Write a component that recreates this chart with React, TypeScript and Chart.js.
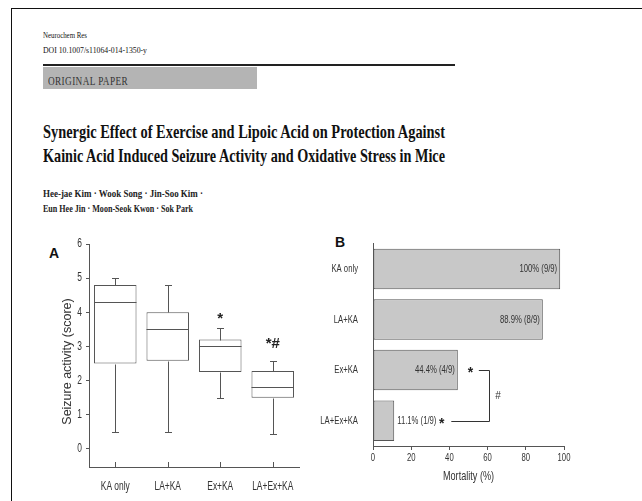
import React, { useEffect, useLayoutEffect, useRef } from 'react';
import { Chart, registerables } from 'chart.js';

Chart.register(...registerables);

// ---------- data ----------
const GROUPS = ['KA only', 'LA+KA', 'Ex+KA', 'LA+Ex+KA'];

const SEIZURE_MIN = [0.5, 0.5, 1.5, 0.45];
const SEIZURE_Q1 = [2.5, 2.58, 2.25, 1.5];
const SEIZURE_MEDIAN = [4.3, 3.5, 3.0, 1.8];
const SEIZURE_Q3 = [4.8, 4.0, 3.2, 2.28];
const SEIZURE_MAX = [5.0, 4.8, 3.55, 2.57];
const SEIZURE_MEAN = [3.8, 3.2, 2.65, 1.8];
const SEIZURE_MARKS = ['', '', '*', '*#'];
const SEIZURE_MARK_AT = [0, 0, 3.9, 3.15];
const SEIZURE_TICKS = [0, 1, 2, 3, 4, 5, 6];
const SEIZURE_TITLE = 'Seizure activity (score)';

const MORTALITY = [98, 88.9, 44.4, 11.1];
const MORTALITY_LABELS = ['100% (9/9)', '88.9% (8/9)', '44.4% (4/9)', '11.1% (1/9)'];
const MORTALITY_STAR_AT = [null, null, 51, 36];
const MORTALITY_TICKS = [0, 20, 40, 60, 80, 100];
const MORTALITY_TITLE = 'Mortality (%)';
const BRACKET_GROUPS = [2, 3];
const BRACKET_X = [55.4, 60.6, 41];
const BRACKET_HASH_AT = 65.4;

const HEADER_JOURNAL = 'Neurochem Res';
const HEADER_DOI = 'DOI 10.1007/s11064-014-1350-y';
const HEADER_TYPE = 'ORIGINAL PAPER';
const TITLE_LINES = [
  'Synergic Effect of Exercise and Lipoic Acid on Protection Against',
  'Kainic Acid Induced Seizure Activity and Oxidative Stress in Mice',
];
const AUTHOR_LINES = [
  'Hee-jae Kim \u00b7 Wook Song \u00b7 Jin-Soo Kim \u00b7',
  'Eun Hee Jin \u00b7 Moon-Seok Kwon \u00b7 Sok Park',
];

const NARROW_MARK = 'NarrowMark';
const NARROW = `'Liberation Sans', ${NARROW_MARK}, Arial, sans-serif`;
const SANS = "'Liberation Sans', Arial, sans-serif";
const SERIF = "'Liberation Serif', 'Times New Roman', serif";
const AXIS = '#555';
const TEXT = '#333';
const CONDENSE = 0.7;

function crisp(v: number) {
  return Math.round(v) + 0.5;
}

function line(ctx: CanvasRenderingContext2D, x1: number, y1: number, x2: number, y2: number) {
  ctx.beginPath();
  ctx.moveTo(x1, y1);
  ctx.lineTo(x2, y2);
  ctx.stroke();
}

// Text set in the narrow family is drawn horizontally condensed, like the figure's narrow sans.
function condenseText(canvas: HTMLCanvasElement, factor: number) {
  const ctx = canvas.getContext('2d') as any;
  if (!ctx || ctx.__condensed) return;
  ctx.__condensed = true;
  const orig = ctx.fillText;
  ctx.fillText = function (text: string, x: number, y: number, maxWidth?: number) {
    if (!String(this.font).includes(NARROW_MARK)) {
      return maxWidth === undefined ? orig.call(this, text, x, y) : orig.call(this, text, x, y, maxWidth);
    }
    this.save();
    this.translate(x, y);
    this.scale(factor, 1);
    if (maxWidth === undefined) orig.call(this, text, 0, 0);
    else orig.call(this, text, 0, 0, maxWidth / factor);
    this.restore();
  };
}

// ---------- fitted text ----------
function FitText(props: { text: string; left: number; top: number; width: number; style?: React.CSSProperties }) {
  const ref = useRef<HTMLSpanElement>(null);
  useLayoutEffect(() => {
    const el = ref.current;
    if (!el) return;
    el.style.transform = 'none';
    const w = el.getBoundingClientRect().width;
    if (w > 0) el.style.transform = `scaleX(${props.width / w})`;
  }, [props.text, props.width]);
  return (
    <span
      ref={ref}
      style={{
        position: 'absolute',
        left: props.left,
        top: props.top,
        whiteSpace: 'nowrap',
        display: 'inline-block',
        transformOrigin: '0 0',
        lineHeight: 1,
        ...props.style,
      }}
    >
      {props.text}
    </span>
  );
}

// ---------- chart A ----------
const boxPlugin = {
  id: 'boxExtras',
  afterDatasetsDraw(chart: any) {
    const { ctx, scales, chartArea } = chart;
    const x = scales.x;
    const y = scales.y;
    const meta = chart.getDatasetMeta(0);
    ctx.save();
    ctx.strokeStyle = AXIS;
    ctx.lineWidth = 1;
    meta.data.forEach((bar: any, i: number) => {
      const cx = crisp(bar.x);
      const half = bar.width / 2;
      const cap = 3.5;
      const yMax = crisp(y.getPixelForValue(SEIZURE_MAX[i]));
      const yQ3 = crisp(y.getPixelForValue(SEIZURE_Q3[i]));
      const yQ1 = crisp(y.getPixelForValue(SEIZURE_Q1[i]));
      const yMin = crisp(y.getPixelForValue(SEIZURE_MIN[i]));
      const yMed = crisp(y.getPixelForValue(SEIZURE_MEDIAN[i]));
      line(ctx, cx, yQ3, cx, yMax);
      line(ctx, cx - cap, yMax, cx + cap, yMax);
      line(ctx, cx, yQ1, cx, yMin);
      line(ctx, cx - cap, yMin, cx + cap, yMin);
      line(ctx, bar.x - half, yMed, bar.x + half, yMed);
    });
    GROUPS.forEach((_, i) => {
      const px = crisp(x.getPixelForValue(i));
      line(ctx, px, chartArea.bottom, px, chartArea.bottom - 5);
    });
    ctx.fillStyle = '#222';
    ctx.font = `bold 15px ${SANS}`;
    ctx.textAlign = 'center';
    ctx.textBaseline = 'middle';
    SEIZURE_MARKS.forEach((m, i) => {
      if (!m) return;
      ctx.fillText(m, x.getPixelForValue(i), y.getPixelForValue(SEIZURE_MARK_AT[i]) + 3);
    });
    // axis title, centred on the figure's position beside the axis
    ctx.fillStyle = TEXT;
    ctx.font = `12.5px ${SANS}`;
    ctx.translate(y.left + 48, (chartArea.top + chartArea.bottom) / 2 + 6);
    ctx.rotate(-Math.PI / 2);
    ctx.fillText(SEIZURE_TITLE, 0, 0);
    ctx.restore();
  },
};

function SeizureChart() {
  const ref = useRef<HTMLCanvasElement>(null);
  useEffect(() => {
    const canvas = ref.current;
    if (!canvas) return;
    condenseText(canvas, CONDENSE);
    const chart = new Chart(canvas, {
      type: 'bar',
      data: {
        labels: GROUPS,
        datasets: [
          {
            type: 'bar',
            data: GROUPS.map((_, i) => [SEIZURE_Q1[i], SEIZURE_Q3[i]]) as any,
            backgroundColor: '#ffffff',
            borderColor: AXIS,
            borderWidth: 1,
            borderSkipped: false,
            barPercentage: 0.81,
            categoryPercentage: 1,
          },
          {
            type: 'line',
            data: SEIZURE_MEAN,
            showLine: false,
            pointStyle: 'rect',
            pointRadius: 2.5,
            pointBorderWidth: 1,
            pointBorderColor: '#999999',
            pointBackgroundColor: '#ffffff',
          } as any,
        ],
      },
      options: {
        responsive: false,
        animation: false,
        devicePixelRatio: 1,
        layout: { padding: { top: 14, right: 21, left: 0, bottom: 0 } },
        plugins: { legend: { display: false }, tooltip: { enabled: false } },
        scales: {
          x: {
            type: 'category',
            offset: true,
            grid: { display: false },
            border: { display: true, color: AXIS, width: 1 },
            ticks: {
              color: TEXT,
              font: { family: NARROW, size: 12 },
              padding: 4,
              maxRotation: 0,
              minRotation: 0,
              autoSkip: false,
            },
            afterFit: (s: any) => {
              s.height = 34;
            },
          },
          y: {
            type: 'linear',
            min: -0.53,
            max: 6,
            afterBuildTicks: (s: any) => {
              s.ticks = SEIZURE_TICKS.map((v) => ({ value: v }));
            },
            grid: { display: true, drawOnChartArea: false, drawTicks: true, tickLength: 3, color: AXIS },
            border: { display: true, color: AXIS, width: 1 },
            ticks: { color: TEXT, font: { family: NARROW, size: 12 }, padding: 4 },
            afterFit: (s: any) => {
              s.width = 69;
            },
          },
        },
      },
      plugins: [boxPlugin],
    } as any);
    return () => chart.destroy();
  }, []);
  return <canvas ref={ref} width={300} height={271} style={{ position: 'absolute', left: 20, top: 230 }} />;
}

// ---------- chart B ----------
const mortalityPlugin = {
  id: 'mortalityExtras',
  afterDatasetsDraw(chart: any) {
    const { ctx, scales } = chart;
    const x = scales.x;
    const y = scales.y;
    const meta = chart.getDatasetMeta(0);
    ctx.save();
    ctx.fillStyle = TEXT;
    ctx.font = `11px ${NARROW}`;
    ctx.textBaseline = 'middle';
    meta.data.forEach((bar: any, i: number) => {
      if (MORTALITY[i] > 30) {
        ctx.textAlign = 'right';
        ctx.fillText(MORTALITY_LABELS[i], bar.x - 3, bar.y);
      } else {
        ctx.textAlign = 'left';
        ctx.fillText(MORTALITY_LABELS[i], bar.x + 3, bar.y);
      }
    });
    ctx.fillStyle = '#222';
    ctx.font = `bold 14px ${SANS}`;
    ctx.textAlign = 'center';
    MORTALITY_STAR_AT.forEach((v, i) => {
      if (v == null) return;
      ctx.fillText('*', x.getPixelForValue(v), y.getPixelForValue(i) + 3);
    });
    ctx.strokeStyle = '#333';
    ctx.lineWidth = 1;
    const yTop = crisp(y.getPixelForValue(BRACKET_GROUPS[0]));
    const yBot = crisp(y.getPixelForValue(BRACKET_GROUPS[1]));
    const xr = crisp(x.getPixelForValue(BRACKET_X[1]));
    line(ctx, x.getPixelForValue(BRACKET_X[0]), yTop, xr, yTop);
    line(ctx, xr, yTop, xr, yBot);
    line(ctx, x.getPixelForValue(BRACKET_X[2]), yBot, xr, yBot);
    ctx.font = `10px ${SANS}`;
    ctx.fillStyle = TEXT;
    ctx.fillText('#', x.getPixelForValue(BRACKET_HASH_AT), (yTop + yBot) / 2);
    ctx.restore();
  },
};

function MortalityChart() {
  const ref = useRef<HTMLCanvasElement>(null);
  useEffect(() => {
    const canvas = ref.current;
    if (!canvas) return;
    condenseText(canvas, CONDENSE);
    const chart = new Chart(canvas, {
      type: 'bar',
      data: {
        labels: GROUPS,
        datasets: [
          {
            data: MORTALITY,
            backgroundColor: '#c8c8c8',
            borderColor: AXIS,
            borderWidth: 1,
            borderSkipped: false,
            barPercentage: 0.8,
            categoryPercentage: 1,
          },
        ],
      },
      options: {
        indexAxis: 'y',
        responsive: false,
        animation: false,
        devicePixelRatio: 1,
        layout: { padding: { top: 13, right: 78, left: 0, bottom: 0 } },
        plugins: { legend: { display: false }, tooltip: { enabled: false } },
        scales: {
          y: {
            type: 'category',
            offset: true,
            grid: { display: false },
            border: { display: true, color: AXIS, width: 1 },
            ticks: { color: TEXT, font: { family: NARROW, size: 11 }, padding: 7, autoSkip: false },
            afterFit: (s: any) => {
              s.width = 53;
            },
          },
          x: {
            type: 'linear',
            min: 0,
            max: 100,
            afterBuildTicks: (s: any) => {
              s.ticks = MORTALITY_TICKS.map((v) => ({ value: v }));
            },
            grid: { display: true, drawOnChartArea: false, drawTicks: true, tickLength: 4, color: AXIS },
            border: { display: true, color: AXIS, width: 1 },
            ticks: {
              color: TEXT,
              font: { family: NARROW, size: 11 },
              padding: 1.5,
              maxRotation: 0,
              minRotation: 0,
              autoSkip: false,
            },
            title: {
              display: true,
              text: MORTALITY_TITLE,
              color: TEXT,
              font: { family: NARROW, size: 13 },
              padding: { top: 0, bottom: 17 },
            },
            afterFit: (s: any) => {
              s.height = 55;
            },
          },
        },
      },
      plugins: [mortalityPlugin],
    } as any);
    return () => chart.destroy();
  }, []);
  return <canvas ref={ref} width={322} height={271} style={{ position: 'absolute', left: 320, top: 230 }} />;
}

export default function App() {
  return (
    <div
      style={{
        position: 'absolute',
        left: 0,
        top: 0,
        width: 642,
        height: 501,
        background: '#ffffff',
        overflow: 'hidden',
        color: '#111',
      }}
    >
      {/* page frame */}
      <div style={{ position: 'absolute', left: 11, top: 8, right: 0, height: 1, background: '#111' }} />
      <div style={{ position: 'absolute', left: 11, top: 8, bottom: 0, width: 1, background: '#111' }} />

      <FitText text={HEADER_JOURNAL} left={43} top={32} width={44} style={{ fontFamily: SERIF, fontSize: 8 }} />
      <FitText text={HEADER_DOI} left={43} top={47} width={104} style={{ fontFamily: SERIF, fontSize: 8 }} />
      <div style={{ position: 'absolute', left: 43, top: 64, width: 412, height: 2, background: '#222' }} />
      <div style={{ position: 'absolute', left: 43, top: 67, width: 214, height: 22, background: '#b4b4b4' }} />
      <FitText
        text={HEADER_TYPE}
        left={48}
        top={75}
        width={80}
        style={{ fontFamily: SERIF, fontSize: 12, color: '#333', letterSpacing: 0.5 }}
      />

      {TITLE_LINES.map((t, i) => (
        <FitText
          key={t}
          text={t}
          left={43}
          top={[122, 146][i]}
          width={402}
          style={{ fontFamily: SERIF, fontSize: 19, fontWeight: 'bold', color: '#111' }}
        />
      ))}
      {AUTHOR_LINES.map((t, i) => (
        <FitText
          key={t}
          text={t}
          left={43}
          top={[189, 204][i]}
          width={[160, 150][i]}
          style={{ fontFamily: SERIF, fontSize: 10, fontWeight: 'bold', color: '#222' }}
        />
      ))}

      <div
        style={{
          position: 'absolute',
          left: 49,
          top: 246,
          fontFamily: SANS,
          fontWeight: 'bold',
          fontSize: 14,
          lineHeight: 1,
          color: '#111',
        }}
      >
        A
      </div>
      <div
        style={{
          position: 'absolute',
          left: 335,
          top: 235,
          fontFamily: SANS,
          fontWeight: 'bold',
          fontSize: 14,
          lineHeight: 1,
          color: '#111',
        }}
      >
        B
      </div>

      <SeizureChart />
      <MortalityChart />
    </div>
  );
}
